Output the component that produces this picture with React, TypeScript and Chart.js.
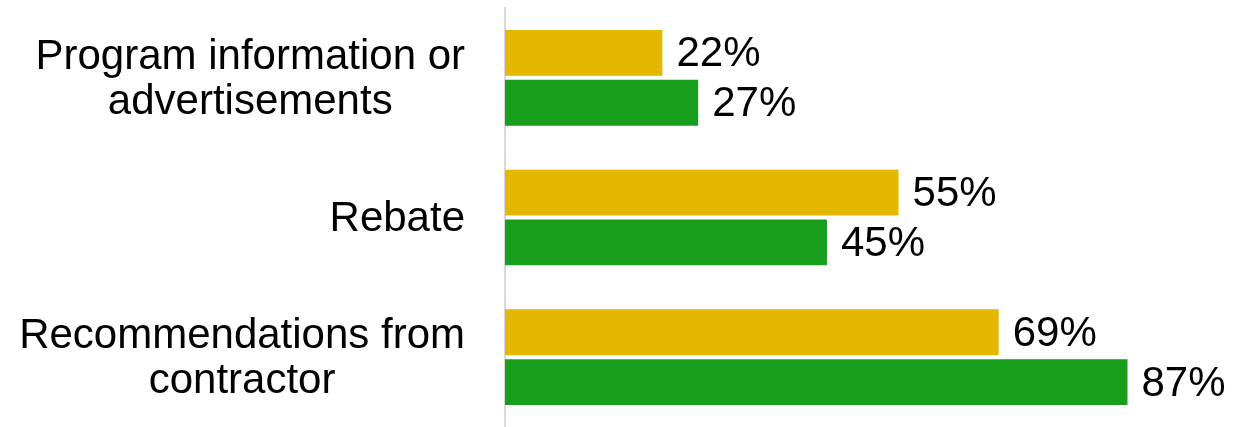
import React, { useEffect, useRef } from "react";
import { Chart, registerables } from "chart.js";

Chart.register(...registerables);

const categories: string[][] = [
  ["Program information or", "advertisements"],
  ["Rebate"],
  ["Recommendations from", "contractor"],
];
const seriesA: number[] = [22, 55, 69];
const seriesB: number[] = [27, 45, 87];
const colorA = "#E5B800";
const colorB = "#189E1D";
const FONT = "42px 'Liberation Sans', Arial, sans-serif";

const labelPlugin = {
  id: "customLabels",
  afterDraw(chart: any) {
    const ctx = chart.ctx;
    ctx.save();
    ctx.font = FONT;
    ctx.fillStyle = "#000";
    // category labels
    const yScale = chart.scales.y;
    const rightEdge = 465;
    const lineH = 45;
    categories.forEach((lines, i) => {
      const cy = yScale.getPixelForTick(i);
      const widths = lines.map((l) => ctx.measureText(l).width);
      const maxW = Math.max(...widths);
      const cx = rightEdge - maxW / 2;
      ctx.textAlign = "center";
      ctx.textBaseline = "middle";
      lines.forEach((l, j) => {
        const y = cy + (j - (lines.length - 1) / 2) * lineH;
        ctx.fillText(l, cx, y + 2);
      });
    });
    // value labels
    ctx.textAlign = "left";
    ctx.textBaseline = "middle";
    chart.data.datasets.forEach((ds: any, di: number) => {
      const meta = chart.getDatasetMeta(di);
      meta.data.forEach((el: any, i: number) => {
        ctx.fillText(ds.data[i] + "%", el.x + 14, el.y + 2);
      });
    });
    ctx.restore();
  },
};

export default function App() {
  const ref = useRef<HTMLCanvasElement | null>(null);
  useEffect(() => {
    if (!ref.current) return;
    const chart = new Chart(ref.current, {
      type: "bar",
      data: {
        labels: categories.map((c) => c.join(" ")),
        datasets: [
          {
            data: seriesA,
            backgroundColor: colorA,
            barPercentage: 0.92,
            categoryPercentage: 0.714,
          },
          {
            data: seriesB,
            backgroundColor: colorB,
            barPercentage: 0.92,
            categoryPercentage: 0.714,
          },
        ],
      },
      options: {
        indexAxis: "y",
        animation: false,
        responsive: false,
        maintainAspectRatio: false,
        layout: { padding: { top: 8, bottom: 0, left: 0, right: 24.5 } },
        plugins: {
          legend: { display: false },
          tooltip: { enabled: false },
        },
        scales: {
          x: {
            display: false,
            min: 0,
            max: 100,
          },
          y: {
            grid: { display: false },
            border: { display: true, color: "#D9D9D9", width: 2 },
            ticks: { display: false },
            afterFit(scale: any) {
              scale.width = 505;
            },
          },
        },
      },
      plugins: [labelPlugin],
    } as any);
    return () => chart.destroy();
  }, []);
  return (
    <div style={{ position: "absolute", left: 0, top: 0, width: 1245, height: 427, background: "#fff" }}>
      <canvas ref={ref} width={1245} height={427} style={{ width: 1245, height: 427 }} />
    </div>
  );
}
